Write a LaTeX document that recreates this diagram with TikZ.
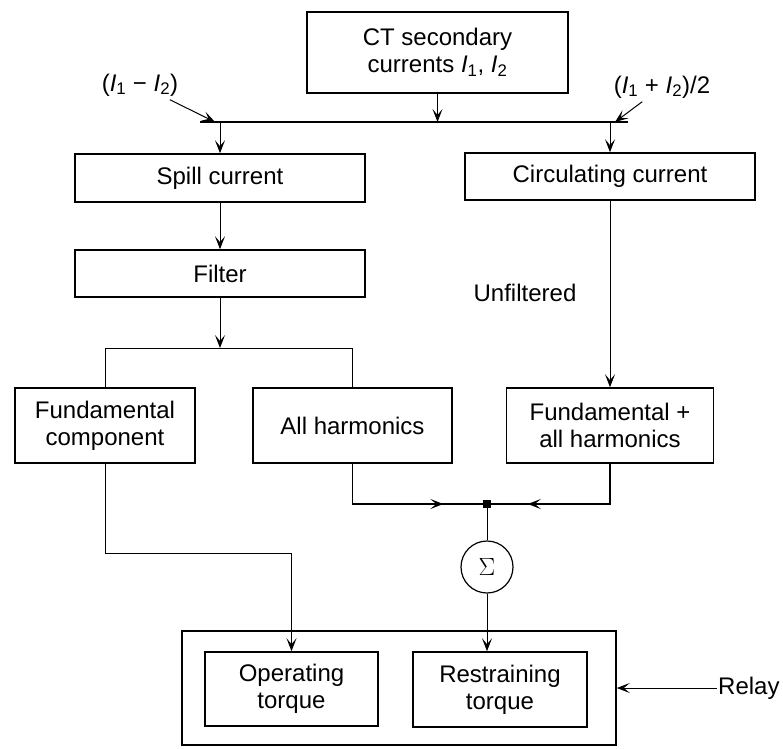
\documentclass[tikz,border=0pt]{standalone}
\usepackage{fontspec}
\setmainfont{Liberation Sans}
\usetikzlibrary{arrows.meta,positioning,decorations.markings}

\newcommand{\Ia}{\textit{I}\textsubscript{1}}
\newcommand{\Ib}{\textit{I}\textsubscript{2}}

\begin{document}
\begin{tikzpicture}[x=1pt, y=-1pt,
    box/.style={draw, line width=1.6pt, align=center, inner sep=0pt,
                font=\fontsize{24}{27}\selectfont},
    lbl/.style={font=\fontsize{24}{27}\selectfont},
    arr/.style={-{Stealth[length=13pt,width=10pt,inset=6pt]}, line width=1pt},
    wire/.style={line width=1pt},
    bus/.style={line width=1.6pt},
    midarr/.style={postaction={decorate}, decoration={markings,
                mark=at position 0.75 with {\arrow{Stealth[length=13pt,width=10pt,inset=6pt]}}}}
  ]
  \useasboundingbox (0,0) rectangle (783,748);

  % blocks
  \node[box, minimum width=261pt, minimum height=81pt] (ct) at (437.5,52.5) {CT secondary\\currents \Ia, \Ib};
  \node[box, minimum width=290pt, minimum height=48pt] (spill) at (220,178) {Spill current};
  \node[box, minimum width=290pt, minimum height=47pt] (circ) at (610,176.5) {Circulating current};
  \node[box, minimum width=290pt, minimum height=47pt] (filter) at (220,273.5) {Filter};
  \node[box, minimum width=180pt, minimum height=75pt] (fund) at (105,425.5) {Fundamental\\component};
  \node[box, minimum width=199pt, minimum height=75pt] (allh) at (352.5,425.5) {All harmonics};
  \node[box, minimum width=207pt, minimum height=75pt] (both) at (610,425.5) {Fundamental +\\all harmonics};
  \node[box, minimum width=434pt, minimum height=114pt] (relay) at (399,688) {};
  \node[box, minimum width=173pt, minimum height=74pt] (oper) at (291.5,689) {Operating\\torque};
  \node[box, minimum width=174pt, minimum height=75pt] (restr) at (500,689.5) {Restraining\\torque};
  \node[draw, circle, line width=1.2pt, minimum size=52pt, inner sep=0pt,
        font=\fontsize{24}{26}\selectfont] (sig) at (487,567) {$\Sigma$};
  \node[fill, minimum size=8pt, inner sep=0pt] (jn) at (487,504) {};

  % labels
  \node[lbl] (dif) at (140,85) {(\Ia\ − \Ib)};
  \node[lbl] (sum) at (662,87) {(\Ia\ + \Ib)/2};
  \node[lbl] (unf) at (525,293) {Unfiltered};
  \node[lbl, anchor=west, inner xsep=1pt] (rl) at (717,688) {Relay};

  \coordinate (busL) at (200,122);
  \coordinate (busR) at (628,122);
  \coordinate (difin) at (215,122);
  \coordinate (sumin) at (615,122);
  \coordinate (split) at (220,348);

  % connectors
  \draw[bus] (busL) -- (busR);
  \draw[arr] (ct) -- (ct |- busL);
  \draw[arr] (dif) -- (difin);
  \draw[arr] (sum) -- (sumin);
  \draw[arr] (spill.north |- busL) -- (spill);
  \draw[arr] (circ.north |- busL) -- (circ);
  \draw[arr] (spill) -- (filter);
  \draw[arr] (filter) -- (split);
  \draw[wire] (fund.north) |- (split) -| (allh.north);
  \draw[arr] (circ) -- (both);
  \draw[bus, midarr] (allh.south) |- (jn.center);
  \draw[bus, midarr] (both.south) |- (jn.center);
  \draw[wire] (jn) -- (sig);
  \draw[arr] (sig) -- (sig |- restr.north);
  \draw[arr] (fund.south) -- ++(0,90) -| (oper.north);
  \draw[arr] (rl) -- (relay.east |- rl);
\end{tikzpicture}
\end{document}
